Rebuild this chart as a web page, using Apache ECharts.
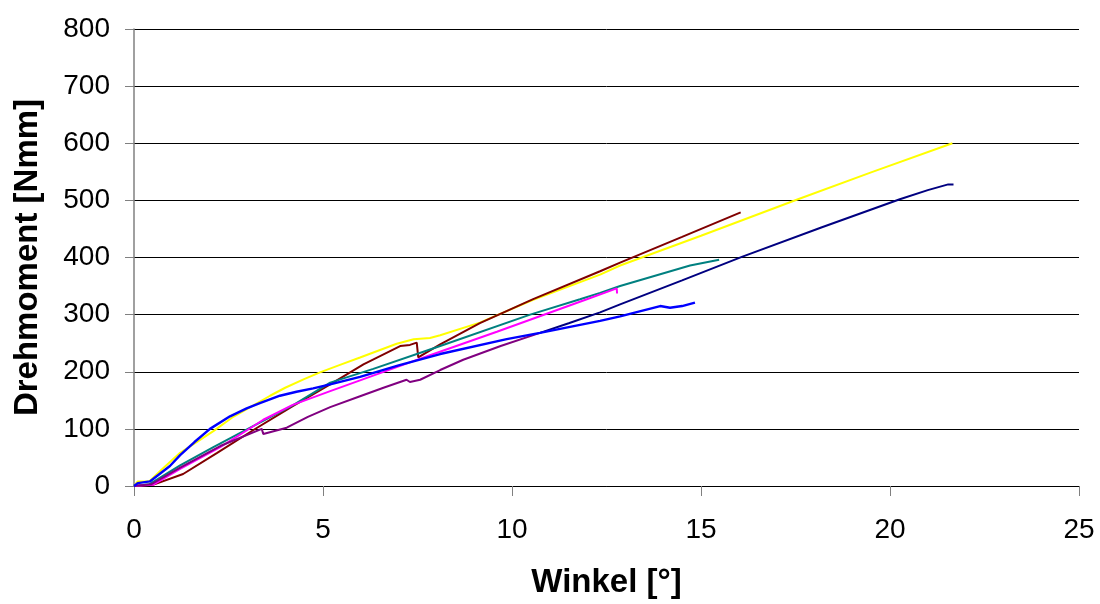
<!DOCTYPE html>
<html>
<head>
<meta charset="utf-8">
<script src="https://cdn.jsdelivr.net/npm/echarts@6/dist/echarts.min.js"></script>
<style>
  html, body { margin: 0; padding: 0; background: #fff; }
  #chart { width: 1100px; height: 604px; }
</style>
</head>
<body>
<div id="chart"></div>
<script>
// Torque vs. twist angle curves, one per specimen: [Winkel °, Drehmoment Nmm]
const xTicks = { min: 0, max: 25, step: 5 };
const yTicks = { min: 0, max: 800, step: 100 };

const xTitle = 'Winkel [°]';
const yTitle = 'Drehmoment [Nmm]';

const navyCurve = [
  [10.74, 268], [11.5, 285], [12.33, 304], [12.86, 318], [14.5, 360], [16.08, 401],
  [18.2, 453], [20.26, 502], [21.0, 518], [21.54, 528], [21.68, 528]
];
const yellowCurve = [
  [0, 0], [0.1, 8], [0.4, 8], [0.8, 33], [1.22, 58], [2.1, 96], [2.6, 120], [3.16, 141],
  [3.6, 158], [4.0, 172], [4.5, 187], [4.92, 199], [5.45, 212], [5.98, 225], [6.95, 249],
  [7.4, 257], [7.83, 259], [8.1, 264], [9.15, 286], [10.56, 326], [12.33, 370],
  [12.86, 386], [15.0, 438], [17.53, 501], [19.5, 549], [21.65, 600]
];
const blueCurve = [
  [0, 0], [0.1, 5], [0.42, 8], [0.95, 35], [1.22, 54], [1.6, 77], [2.01, 100],
  [2.54, 122], [2.98, 136], [3.33, 145], [3.86, 158], [4.3, 165], [4.74, 171],
  [5.19, 178], [5.98, 191], [7.0, 211], [8.1, 231], [9.86, 257], [10.74, 268],
  [12.33, 289], [12.86, 297], [13.92, 315], [14.18, 312], [14.5, 315], [14.84, 321]
];
const tealCurve = [
  [0, 0], [0.4, 3], [1.22, 36], [2.1, 68], [3.1, 103], [4.2, 141], [5.19, 181],
  [6.33, 205], [7.83, 239], [8.1, 245], [10.48, 300], [11.8, 327], [12.33, 338],
  [12.86, 350], [14.71, 386], [15.48, 396]
];
const maroonCurve = [
  [0, 0], [0.5, 2], [1.3, 21], [2.2, 58], [3.16, 98], [4.2, 140], [5.19, 178],
  [6.07, 213], [7.04, 245], [7.3, 247], [7.48, 251], [7.52, 225], [8.1, 248],
  [9.15, 285], [10.56, 327], [12.33, 376], [12.86, 391], [14.5, 436], [16.05, 479]
];
const magentaCurve = [
  [0, 0], [0.5, 2], [1.22, 30], [2.28, 68], [3.0, 98], [3.42, 116], [4.2, 142],
  [5.19, 166], [5.98, 185], [7.83, 229], [9.6, 270], [11.98, 327], [12.77, 346],
  [12.78, 337]
];
const purpleCurve = [
  [0, 0], [0.45, 3], [1.22, 32], [2.28, 70], [3.38, 100], [3.42, 91], [4.04, 102],
  [4.6, 121], [5.19, 138], [5.98, 157], [6.6, 172], [7.21, 186], [7.3, 182],
  [7.57, 186], [8.1, 203], [8.71, 221], [9.7, 245], [10.74, 268]
];

const curves = [
  { data: navyCurve, color: '#000080', width: 2 },
  { data: yellowCurve, color: '#FFFF00', width: 2 },
  { data: maroonCurve, color: '#800000', width: 2 },
  { data: tealCurve, color: '#008080', width: 2 },
  { data: magentaCurve, color: '#FF00FF', width: 2 },
  { data: purpleCurve, color: '#800080', width: 2 },
  { data: blueCurve, color: '#0000FF', width: 2.4 }
];

const font = "'Liberation Sans', Arial, sans-serif";

const chart = echarts.init(document.getElementById('chart'), null, { renderer: 'canvas' });
chart.setOption({
  animation: false,
  backgroundColor: '#ffffff',
  grid: { left: 134, right: 21, top: 29, bottom: 117, containLabel: false },
  xAxis: {
    type: 'value',
    min: xTicks.min, max: xTicks.max, interval: xTicks.step,
    name: xTitle,
    nameLocation: 'middle',
    nameGap: 80,
    nameTextStyle: { fontFamily: font, fontSize: 33, fontWeight: 'bold', color: '#000' },
    axisLine: { show: true, onZero: false, lineStyle: { color: '#000', width: 1 } },
    axisTick: { show: true, inside: false, length: 10, lineStyle: { color: '#808080', width: 1 } },
    axisLabel: { fontFamily: font, fontSize: 28, color: '#000', margin: 30 },
    splitLine: { show: false }
  },
  yAxis: {
    type: 'value',
    min: yTicks.min, max: yTicks.max, interval: yTicks.step,
    name: yTitle,
    nameLocation: 'middle',
    nameGap: 90,
    nameTextStyle: { fontFamily: font, fontSize: 33, fontWeight: 'bold', color: '#000' },
    axisLine: { show: true, lineStyle: { color: '#808080', width: 1.5 } },
    axisTick: { show: true, inside: false, length: 9, lineStyle: { color: '#808080', width: 1 } },
    axisLabel: { fontFamily: font, fontSize: 28, color: '#000', margin: 24 },
    splitLine: { show: true, lineStyle: { color: '#000', width: 1 } }
  },
  series: curves.map(c => ({
    type: 'line',
    data: c.data,
    showSymbol: false,
    symbol: 'none',
    smooth: false,
    lineStyle: { color: c.color, width: c.width },
    itemStyle: { color: c.color },
    z: 3
  }))
});
</script>
</body>
</html>
